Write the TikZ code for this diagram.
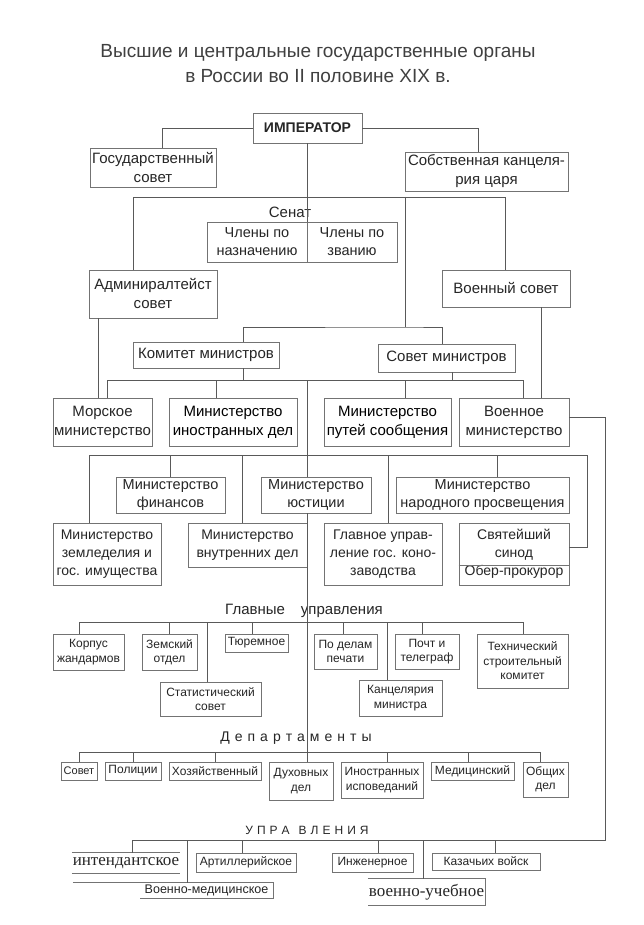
\documentclass[tikz,border=0pt]{standalone}
\usepackage{fontspec}
\setmainfont{Liberation Sans}
\newfontfamily\srf{Liberation Serif}
\newcommand\mylsp{\kern5pt}
\newcommand\mylspb{\kern4pt}
\begin{document}
\begin{tikzpicture}[x=1pt,y=-1pt,
  bx/.style={draw=black!55, line width=0.7pt, inner sep=0pt, align=center, text=black!85},
  nb/.style={inner sep=0pt, align=center, text=black!85},
  fT/.style={font=\fontsize{19}{23}\selectfont},
  fA/.style={font=\fontsize{15}{19}\selectfont},
  fB/.style={font=\fontsize{14}{18}\selectfont},
  fC/.style={font=\fontsize{12}{14.5}\selectfont},
  fS/.style={font=\srf\fontsize{17}{20}\selectfont},
  conn/.style={draw=black!65, line width=0.8pt},
  bl/.style={draw=black!55, line width=0.7pt}
]
\useasboundingbox[fill=white] (0,0) rectangle (644,925);

% title
\node[nb, fT, text=black!75] (t1) at (318,53) {Высшие и центральные государственные органы};
\node[nb, fT, text=black!75] (t2) at (318,76) {в России во II половине XIX в.};

% top level
\node[bx, font=\bfseries\fontsize{14}{17}\selectfont, minimum width=109pt, minimum height=30pt] (imp) at (307.5,128) {ИМПЕРАТОР};
\node[bx, fA, minimum width=126pt, minimum height=39pt] (gos) at (153,167.5) {Государственный\\совет};
\node[bx, fA, minimum width=163pt, minimum height=39pt] (sob) at (486.5,171.5) {Собственная канцеля-\\рия царя};

\node[nb, fA] (senl) at (290,212) {Сенат};
\node[bx, minimum width=190pt, minimum height=40pt] (sen) at (302,242) {};
\node[nb, font=\fontsize{14.5}{18}\selectfont] (senA) at (257,242) {Члены по\\назначению};
\node[nb, font=\fontsize{14.5}{18}\selectfont] (senB) at (352,242) {Члены по\\званию};

\node[bx, fA, minimum width=128pt, minimum height=48pt] (adm) at (153,294) {Админиралтейст\\совет};
\node[bx, fA, minimum width=128pt, minimum height=37pt] (vsov) at (506,288.5) {Военный совет};

\node[bx, fA, minimum width=146pt, minimum height=26pt] (kom) at (206,355) {Комитет министров};
\node[bx, fA, minimum width=137pt, minimum height=28pt] (sovmin) at (446.5,358) {Совет министров};

% ministries row 1
\node[bx, fA, minimum width=99pt, minimum height=48pt] (mor) at (102.5,422) {Морское\\министерство};
\node[bx, fA, text=black, minimum width=128pt, minimum height=48pt] (ino) at (233,422) {Министерство\\иностранных дел};
\node[bx, fA, text=black, minimum width=127pt, minimum height=48pt] (put) at (387.5,422) {Министерство\\путей сообщения};
\node[bx, fA, minimum width=110pt, minimum height=48pt] (voen) at (514,422) {Военное\\министерство};

% row 2
\node[bx, font=\fontsize{14.5}{18}\selectfont, minimum width=109pt, minimum height=36pt] (fin) at (170.5,495) {Министерство\\финансов};
\node[bx, font=\fontsize{14.5}{18}\selectfont, minimum width=110pt, minimum height=36pt] (yus) at (316,495) {Министерство\\юстиции};
\node[bx, font=\fontsize{14.5}{18}\selectfont, minimum width=173pt, minimum height=36pt] (nar) at (482.5,495) {Министерство\\народного просвещения};

% row 3
\node[bx, fB, minimum width=108pt, minimum height=62pt] (zem) at (107,554) {Министерство\\земледелия и\\гос. имущества};
\node[bx, fB, minimum width=119pt, minimum height=44pt] (vnu) at (247.5,545) {Министерство\\внутренних дел};
\node[bx, fB, minimum width=118pt, minimum height=62pt] (glk) at (383,554) {Главное управ-\\ление гос. коно-\\заводства};
\node[bx, fB, minimum width=110pt, minimum height=62pt] (syn) at (514,554) {Святейший\\синод\\Обер-прокурор};

% glavnye upravleniya
\node[nb, fA] (glu) at (304,611) {Главные\hspace{16pt}управления};
\node[bx, fC, minimum width=71pt, minimum height=36pt] (korp) at (88.5,652) {Корпус\\жандармов};
\node[bx, fC, minimum width=55pt, minimum height=36pt] (zem2) at (169.5,652) {Земский\\отдел};
\node[bx, fC, minimum width=63pt, minimum height=18pt] (tyur) at (256.5,643) {Тюремное};
\node[bx, fC, minimum width=101pt, minimum height=34pt] (stat) at (210.5,699) {Статистический\\совет};
\node[bx, fC, minimum width=63pt, minimum height=35pt] (pech) at (345.5,651.5) {По делам\\печати};
\node[bx, fC, minimum width=64pt, minimum height=35pt] (pocht) at (427,651.5) {Почт и\\телеграф};
\node[bx, fC, minimum width=91pt, minimum height=54pt] (tech) at (522.5,661) {Технический\\строительный\\комитет};
\node[bx, fC, minimum width=83pt, minimum height=36pt] (kanc) at (400.5,698) {Канцелярия\\министра};

% departamenty
\node[nb, fB] (depl) at (296,738) {Д\mylsp е\mylsp п\mylsp а\mylsp р\mylsp т\mylsp а\mylsp м\mylsp е\mylsp н\mylsp т\mylsp ы};
\node[bx, font=\fontsize{11}{14}\selectfont, minimum width=36pt, minimum height=18pt] (sovet) at (79,771) {Совет};
\node[bx, fC, minimum width=56pt, minimum height=18pt] (pol) at (133,771) {Полиции};
\node[bx, fC, minimum width=92pt, minimum height=18pt] (hoz) at (215,771) {Хозяйственный};
\node[bx, fC, minimum width=64pt, minimum height=38pt] (duh) at (301,781) {Духовных\\дел};
\node[bx, fC, minimum width=82pt, minimum height=36pt] (inos) at (382,780) {Иностранных\\исповеданий};
\node[bx, fC, minimum width=83pt, minimum height=18pt] (med) at (472.5,771) {Медицинский};
\node[bx, fC, minimum width=45pt, minimum height=35pt] (obsh) at (545.5,779.5) {Общих\\дел};

% upravleniya
\node[nb, fC] (uprl) at (307,830) {У\mylspb П\mylspb Р\mylspb А\kern9pt В\mylspb Л\mylspb Е\mylspb Н\mylspb И\mylspb Я};
\node[nb, fS, minimum width=108pt, minimum height=20pt] (int) at (126,863) {интендантское};
\node[bx, fC, minimum width=100pt, minimum height=19pt] (art) at (246,862.5) {Артиллерийское};
\node[nb, font=\fontsize{12.5}{15}\selectfont, minimum width=133pt, minimum height=15pt] (vmed) at (206.5,890.5) {Военно-медицинское};
\node[bx, fC, minimum width=81pt, minimum height=19pt] (inzh) at (372.5,862.5) {Инженерное};
\node[bx, fC, minimum width=108pt, minimum height=17pt] (kaz) at (486,861.5) {Казачьих войск};
\node[nb, fS, minimum width=117pt, minimum height=26pt] (vuch) at (426.5,892) {военно-учебное};

% ---------- frames of open boxes
\draw[bl] (int.north west) -- (int.north east);
\draw[bl] (int.south west) -- (int.south east);
\draw[bl] ([xshift=-67pt]vmed.north west) -- (vmed.north east) -- (vmed.south east) -- (vmed.south west);
\draw[bl] (vuch.north west) -- (vuch.north east) -- (vuch.south east) -- (vuch.south west);
\draw[bl] ([xshift=5pt]sen.north) -- ([xshift=5pt]sen.south);
\draw[bl] ([yshift=20pt]syn.south west) -- ([yshift=20pt]syn.south east);

% ---------- coordinates
\coordinate (h1L) at (133,197);
\coordinate (h1R) at (505,197);
\coordinate (j1) at (405,197);
\coordinate (j2) at (405,327);
\coordinate (h3L) at (107,380);
\coordinate (h3R) at (523,380);
\coordinate (ax1) at (307,380);
\coordinate (ax2) at (307,455);
\coordinate (h4L) at (89,455);
\coordinate (h4R) at (587,455);
\coordinate (h5L) at (79,622);
\coordinate (h5R) at (523,622);
\coordinate (h7L) at (79,752);
\coordinate (h7R) at (540,752);
\coordinate (h6L) at (132,840);
\coordinate (fr) at (605,840);

% ---------- connectors
\draw[conn] (imp.west) -| ([xshift=9pt]gos.north);
\draw[conn] (imp.east) -| ([xshift=-8.5pt]sob.north);
\draw[conn] (imp.south) -- (imp.south |- sen.north);
\draw[conn] (adm.north -| h1L) |- (h1R) -- (vsov.north -| h1R);
\draw[conn] (j1) -- (j2);
\draw[conn] ([xshift=37pt]kom.north) |- (j2) -| ([xshift=-4.5pt]sovmin.north);
\draw[conn] ([xshift=-55pt]adm.south) -- ([xshift=-55pt]adm.south |- mor.north);
\draw[conn] ([xshift=35pt]vsov.south) -- ([xshift=35pt]vsov.south |- voen.north);

\draw[conn] (h3L) -- (h3R);
\draw[conn] ([xshift=37pt]kom.south) -- ([xshift=37pt]kom.south |- h3L);
\draw[conn] ([xshift=5.5pt]sovmin.south) -- ([xshift=5.5pt]sovmin.south |- h3L);
\draw[conn] (h3L) -- (h3L |- mor.north);
\draw[conn] ([xshift=-17pt]ino.north) -- ([xshift=-17pt]ino.north |- h3L);
\draw[conn] ([xshift=17.5pt]put.north) -- ([xshift=17.5pt]put.north |- h3L);
\draw[conn] (h3R) -- (h3R |- voen.north);
\draw[conn] (ax1) -- (ax2);

\draw[conn] (h4L) -- (h4R);
\draw[conn] (h4L) -- (h4L |- zem.north);
\draw[conn] (fin.north) -- (fin.north |- h4L);
\draw[conn] ([xshift=-5.5pt]vnu.north) -- ([xshift=-5.5pt]vnu.north |- h4L);
\draw[conn] ([xshift=-9pt]yus.north) -- ([xshift=-9pt]yus.north |- h4L);
\draw[conn] ([xshift=5pt]glk.north) -- ([xshift=5pt]glk.north |- h4L);
\draw[conn] ([xshift=14.5pt]nar.north) -- ([xshift=14.5pt]nar.north |- h4L);
\draw[conn] (h4R) |- ([yshift=7pt]syn.east);
\draw[conn] ([xshift=-9pt]yus.south) -- ([xshift=-9pt]yus.south |- duh.north);

\draw[conn] ([yshift=5pt]voen.east) -| (fr) -- (h6L);

\draw[conn] (h5L) -- (h5R);
\draw[conn] (h5L) -- (h5L |- korp.north);
\draw[conn] (zem2.north) -- (zem2.north |- h5L);
\draw[conn] ([xshift=-4.5pt]tyur.north) -- ([xshift=-4.5pt]tyur.north |- h5L);
\draw[conn] ([xshift=-3.5pt]stat.north) -- ([xshift=-3.5pt]stat.north |- h5L);
\draw[conn] ([xshift=-2.5pt]pech.north) -- ([xshift=-2.5pt]pech.north |- h5L);
\draw[conn] ([xshift=-13.5pt]kanc.north) -- ([xshift=-13.5pt]kanc.north |- h5L);
\draw[conn] ([xshift=-5pt]pocht.north) -- ([xshift=-5pt]pocht.north |- h5L);
\draw[conn] (h5R) -- (h5R |- tech.north);

\draw[conn] (h7L) -- (h7R);
\draw[conn] (sovet.north) -- (sovet.north |- h7L);
\draw[conn] (pol.north) -- (pol.north |- h7L);
\draw[conn] (hoz.north) -- (hoz.north |- h7L);
\draw[conn] ([xshift=5pt]inos.north) -- ([xshift=5pt]inos.north |- h7L);
\draw[conn] ([xshift=-4.5pt]med.north) -- ([xshift=-4.5pt]med.north |- h7L);
\draw[conn] ([xshift=-5.5pt]obsh.north) -- ([xshift=-5.5pt]obsh.north |- h7L);

\draw[conn] ([xshift=6pt]int.north) -- ([xshift=6pt]int.north |- h6L);
\draw[conn] ([xshift=-19.5pt]vmed.north) -- ([xshift=-19.5pt]vmed.north |- h6L);
\draw[conn] ([xshift=-4pt]art.north) -- ([xshift=-4pt]art.north |- h6L);
\draw[conn] ([xshift=5.5pt]inzh.north) -- ([xshift=5.5pt]inzh.north |- h6L);
\draw[conn] ([xshift=-3.5pt]vuch.north) -- ([xshift=-3.5pt]vuch.north |- h6L);
\draw[conn] ([xshift=9pt]kaz.north) -- ([xshift=9pt]kaz.north |- h6L);
\end{tikzpicture}
\end{document}
